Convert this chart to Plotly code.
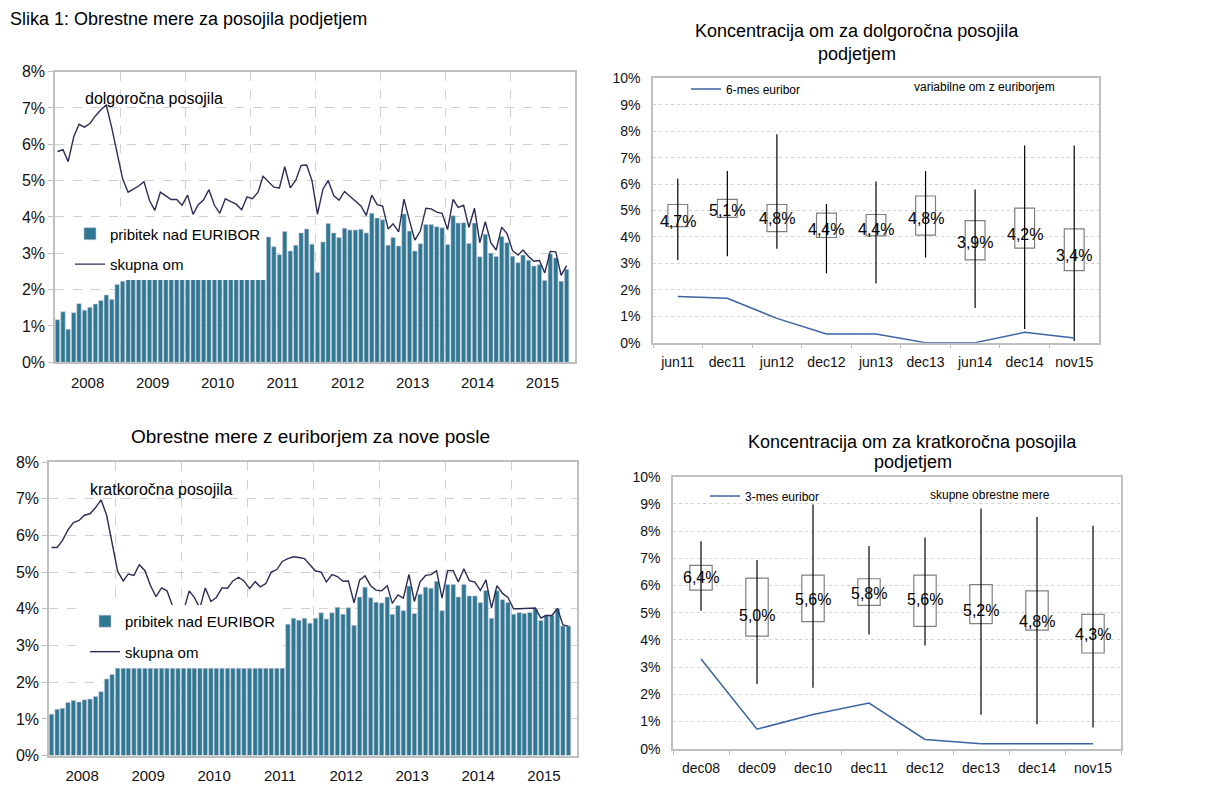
import plotly.graph_objects as go

W, H = 1231, 792
def X(px):
    return px / W
def Y(py):
    return 1 - py / H

FONT = "Liberation Sans, Arial, sans-serif"
NARROW = "Liberation Sans Narrow, Arial Narrow, Liberation Sans, Arial, sans-serif"
BAR_C = "#2F7892"
LINE_C = "#2B2D55"
EUR_C = "#3B64A0"

# ---------------- monthly data (Jan 2008 - Nov 2015) ----------------
months = [f"{y}-{m:02d}-15" for y in range(2008, 2016) for m in range(1, 13)][:95]

dolg_pribitek = [
    1.17, 1.39, 0.91, 1.36, 1.61, 1.43, 1.51, 1.60, 1.70, 1.85, 1.73, 2.14,
    2.23, 2.38, 2.38, 2.38, 2.38, 2.38, 2.38, 2.38, 2.38, 2.38, 2.38, 2.38,
    2.38, 2.38, 2.38, 2.38, 2.38, 2.38, 2.38, 2.38, 2.38, 2.38, 2.38, 2.38,
    2.38, 2.38, 2.38, 3.45, 3.18, 2.96, 3.60, 3.06, 3.22, 3.56, 3.67, 3.25,
    2.47, 3.31, 3.82, 3.56, 3.43, 3.69, 3.64, 3.64, 3.66, 3.56, 4.10, 3.97,
    3.92, 3.22, 3.43, 3.20, 4.08, 3.61, 3.06, 3.26, 3.79, 3.79, 3.73, 3.70,
    3.24, 4.03, 3.83, 3.84, 3.27, 3.83, 2.90, 3.52, 3.00, 2.91, 3.46, 3.29,
    2.92, 2.74, 2.95, 2.81, 2.65, 2.68, 2.25, 2.98, 2.87, 2.23, 2.56,
]
dolg_skupna = [
    5.80, 5.85, 5.52, 6.20, 6.55, 6.47, 6.57, 6.78, 6.95, 7.08, 6.45, 5.75,
    5.05, 4.68, 4.75, 4.85, 4.97, 4.45, 4.18, 4.68, 4.58, 4.48, 4.48, 4.32,
    4.60, 4.07, 4.33, 4.47, 4.75, 4.32, 4.10, 4.50, 4.42, 4.35, 4.20, 4.55,
    4.50, 4.68, 5.12, 4.97, 4.82, 4.80, 5.38, 4.80, 5.01, 5.42, 5.43, 5.00,
    4.08, 4.77, 5.00, 4.59, 4.46, 4.70, 4.57, 4.46, 4.30, 4.04, 4.60, 4.34,
    4.30, 3.67, 3.81, 3.59, 4.49, 3.90, 3.36, 3.61, 4.24, 4.22, 4.13, 4.10,
    3.65, 4.48, 4.26, 4.32, 3.71, 4.24, 3.29, 3.87, 3.29, 3.09, 3.72, 3.54,
    3.07, 2.95, 3.09, 2.91, 2.78, 2.80, 2.46, 3.05, 3.04, 2.39, 2.66,
]
kratk_pribitek = [
    1.13, 1.26, 1.29, 1.45, 1.50, 1.46, 1.52, 1.54, 1.61, 1.74, 2.09, 2.21,
    2.38, 2.38, 2.38, 2.38, 2.38, 2.38, 2.38, 2.38, 2.38, 2.38, 2.38, 2.38,
    2.38, 2.38, 2.38, 2.38, 2.38, 2.38, 2.38, 2.38, 2.38, 2.38, 2.38, 2.38,
    2.38, 2.38, 2.38, 2.38, 2.38, 2.38, 2.38, 3.58, 3.74, 3.69, 3.74, 3.61,
    3.74, 3.89, 3.72, 3.89, 4.04, 3.85, 4.03, 3.55, 4.32, 4.59, 4.30, 4.18,
    4.16, 4.32, 3.85, 4.09, 3.95, 4.62, 3.87, 4.40, 4.59, 4.56, 4.75, 3.95,
    4.66, 4.66, 4.32, 4.66, 4.35, 4.35, 4.17, 4.50, 3.74, 4.49, 4.25, 4.17,
    3.85, 3.90, 3.87, 3.90, 4.00, 3.68, 3.83, 3.82, 4.00, 3.53, 3.53,
]
kratk_skupna = [
    5.67, 5.67, 5.86, 6.15, 6.35, 6.41, 6.55, 6.59, 6.76, 6.97, 6.55, 5.80,
    5.02, 4.76, 4.95, 4.91, 5.20, 5.04, 4.64, 4.33, 4.57, 4.49, 4.07, 3.90,
    3.95, 4.49, 4.31, 4.02, 4.57, 4.20, 4.31, 4.57, 4.56, 4.76, 4.86, 4.76,
    4.55, 4.74, 4.60, 4.69, 5.00, 5.07, 5.29, 5.37, 5.42, 5.40, 5.37, 5.20,
    5.03, 5.00, 4.73, 4.93, 4.88, 4.75, 4.76, 4.16, 4.78, 4.90, 4.63, 4.51,
    4.49, 4.63, 4.15, 4.38, 4.29, 4.94, 4.20, 4.73, 4.91, 4.93, 5.04, 4.29,
    5.04, 5.04, 4.73, 5.09, 4.77, 4.73, 4.50, 4.79, 4.02, 4.63, 4.42, 4.31,
    4.00, 4.00, 4.00, 4.00, 4.02, 3.75, 3.82, 3.82, 4.01, 3.56, 3.53,
]

# ---------------- box data ----------------
dolg_cats = ["jun11", "dec11", "jun12", "dec12", "jun13", "dec13", "jun14", "dec14", "nov15"]
dolg_low = [3.13, 3.27, 3.55, 2.63, 2.24, 3.22, 1.31, 0.52, 0.06]
dolg_q1 = [4.39, 4.74, 4.20, 3.98, 4.04, 4.07, 3.13, 3.58, 2.73]
dolg_med = [4.7, 5.1, 4.8, 4.4, 4.4, 4.8, 3.9, 4.2, 3.4]
dolg_q3 = [5.23, 5.42, 5.23, 4.90, 4.85, 5.55, 4.62, 5.09, 4.31]
dolg_high = [6.20, 6.50, 7.89, 5.25, 6.10, 6.50, 5.80, 7.46, 7.46]
euribor6 = [1.75, 1.68, 0.92, 0.33, 0.33, 0.00, 0.00, 0.39, 0.18]

kratk_cats = ["dec08", "dec09", "dec10", "dec11", "dec12", "dec13", "dec14", "nov15"]
kratk_low = [5.07, 2.38, 2.24, 4.20, 3.80, 1.25, 0.90, 0.78]
kratk_q1 = [5.83, 4.14, 4.67, 5.27, 4.50, 4.60, 4.36, 3.52]
kratk_med = [6.4, 5.0, 5.6, 5.8, 5.6, 5.2, 4.8, 4.3]
kratk_q3 = [6.74, 6.27, 6.38, 6.25, 6.38, 6.03, 5.80, 4.94]
kratk_high = [7.63, 6.94, 8.98, 7.45, 7.77, 8.83, 8.52, 8.20]
euribor3 = [3.30, 0.72, 1.26, 1.68, 0.34, 0.18, 0.18, 0.18]

MONTH_MS = 30.44 * 24 * 3600 * 1000

fig = go.Figure()

# ---------- left panels ----------
for (pribitek, skupna, xa, ya, leg) in [
    (dolg_pribitek, dolg_skupna, "x", "y", "legend"),
    (kratk_pribitek, kratk_skupna, "x3", "y3", "legend3"),
]:
    fig.add_trace(go.Bar(
        x=months, y=pribitek, xaxis=xa, yaxis=ya, name="pribitek nad EURIBOR",
        marker=dict(color=BAR_C, line=dict(color="#C4C4D8", width=0.6)),
        width=0.8 * MONTH_MS, legend=leg, legendgroup=leg + "a",
    ))
    fig.add_trace(go.Scatter(
        x=months, y=skupna, xaxis=xa, yaxis=ya, name="skupna om", mode="lines",
        line=dict(color=LINE_C, width=1.4), legend=leg, legendgroup=leg + "b",
    ))

# ---------- right panels (box charts) ----------
def add_boxes(cats, low, q1, q3, high, eur, eur_name, xa, ya, leg):
    wx, wy = [], []
    for c, lo, hi in zip(cats, low, high):
        wx += [c, c, None]
        wy += [lo, hi, None]
    fig.add_trace(go.Scatter(x=wx, y=wy, mode="lines", xaxis=xa, yaxis=ya,
                             line=dict(color="black", width=1.2), showlegend=False,
                             hoverinfo="skip"))
    fig.add_trace(go.Bar(x=cats, y=[b - a for a, b in zip(q1, q3)], base=q1,
                         xaxis=xa, yaxis=ya, width=0.4, showlegend=False,
                         marker=dict(color="white", line=dict(color="#7F7F7F", width=1.2))))
    fig.add_trace(go.Scatter(x=cats, y=eur, mode="lines", xaxis=xa, yaxis=ya,
                             name=eur_name, line=dict(color=EUR_C, width=1.5),
                             legend=leg))

add_boxes(dolg_cats, dolg_low, dolg_q1, dolg_q3, dolg_high, euribor6,
          "6-mes euribor", "x2", "y2", "legend2")
add_boxes(kratk_cats, kratk_low, kratk_q1, kratk_q3, kratk_high, euribor3,
          "3-mes euribor", "x4", "y4", "legend4")

annotations = []
for cats, med, xa, ya in [(dolg_cats, dolg_med, "x2", "y2"), (kratk_cats, kratk_med, "x4", "y4")]:
    for c, m in zip(cats, med):
        annotations.append(dict(
            x=c, y=m, xref=xa, yref=ya, showarrow=False, yshift=-3,
            text=f"{m:.1f}".replace(".", ",") + "%",
            font=dict(family=NARROW, size=16, color="black"),
        ))

def txt(text, px, py, size, anchor="center", family=FONT):
    annotations.append(dict(
        x=X(px), y=Y(py), xref="paper", yref="paper", showarrow=False,
        text=text, xanchor=anchor, yanchor="middle",
        font=dict(family=family, size=size, color="black"),
    ))

txt("Slika 1: Obrestne mere za posojila podjetjem", 8, 11, 18, "left")
txt("dolgoročna posojila", 83, 92, 16, "left")
txt("kratkoročna posojila", 88, 492, 16, "left")
txt("Obrestne mere z euriborjem za nove posle", 310, 438, 19)
txt("Koncentracija om za dolgoročna posojila", 857, 23, 18)
txt("podjetjem", 857, 47, 18)
txt("Koncentracija om za kratkoročna posojila", 913, 444, 18)
txt("podjetjem", 913, 464, 18)
txt("variabilne om z euriborjem", 984, 81, 12, family=NARROW)
txt("skupne obrestne mere", 990, 498, 12, family=NARROW)

# ---------- axes ----------
def left_axes(xdom, ydom):
    xa = dict(
        domain=xdom, type="date", range=["2008-01-01", "2016-01-01"],
        tick0="2008-01-01", dtick="M12", tickformat="%Y", ticklabelmode="period",
        showgrid=True, gridcolor="#D0D0D0", griddash="dash", gridwidth=1,
        showline=True, mirror=True, linecolor="#BFBFBF", linewidth=1.5,
        ticks="", ticklabelstandoff=6,
        tickfont=dict(family=FONT, size=15, color="#111"),
    )
    ya = dict(
        domain=ydom, range=[0, 8], tickmode="linear", tick0=0, dtick=1,
        ticksuffix="%", showticksuffix="all",
        showgrid=True, gridcolor="#D0D0D0", griddash="dash",
        showline=True, mirror=True, linecolor="#BFBFBF", linewidth=1.5,
        ticks="outside", ticklen=5, tickcolor="#BFBFBF", zeroline=False,
        tickfont=dict(family=FONT, size=16, color="#111"),
    )
    return xa, ya

def right_axes(xdom, ydom):
    xa = dict(
        domain=xdom, type="category", showgrid=False,
        showline=True, mirror=True, linecolor="#BFBFBF", linewidth=1.5,
        ticks="outside", tickson="boundaries", ticklen=4, tickcolor="#BFBFBF",
        ticklabelstandoff=6,
        tickfont=dict(family=NARROW, size=14, color="#111"),
    )
    ya = dict(
        domain=ydom, range=[0, 10], dtick=1, ticksuffix="%",
        showgrid=True, gridcolor="#D3D3D3", griddash="dot", gridwidth=1,
        showline=True, mirror=True, linecolor="#BFBFBF", linewidth=1.5,
        zeroline=False, ticks="", ticklabelstandoff=8,
        tickfont=dict(family=NARROW, size=14, color="#111"),
    )
    return xa, ya

x1, y1 = left_axes([X(55), X(575)], [Y(362), Y(65)])
x3, y3 = left_axes([X(49), X(577)], [Y(764), Y(464)])
x2, y2 = right_axes([X(653), X(1099)], [Y(342), Y(72)])
x4, y4 = right_axes([X(673), X(1121)], [Y(757), Y(479)])
x2["anchor"] = "y2"; y2["anchor"] = "x2"
x3["anchor"] = "y3"; y3["anchor"] = "x3"
x4["anchor"] = "y4"; y4["anchor"] = "x4"

leg_big = dict(bgcolor="white", borderwidth=0, xanchor="left", yanchor="top",
               font=dict(family=FONT, size=15, color="black"),
               traceorder="grouped", tracegroupgap=8)
leg_small = dict(bgcolor="rgba(0,0,0,0)", borderwidth=0, xanchor="left", yanchor="top",
                 font=dict(family=NARROW, size=12, color="black"))

fig.update_layout(
    width=W, height=H, autosize=False,
    margin=dict(l=0, r=0, t=0, b=0),
    paper_bgcolor="white", plot_bgcolor="white",
    barmode="overlay", showlegend=True,
    font=dict(family=FONT, color="black"),
    xaxis=x1, yaxis=y1, xaxis2=x2, yaxis2=y2, xaxis3=x3, yaxis3=y3,
    xaxis4=x4, yaxis4=y4,
    legend=dict(leg_big, x=X(70), y=Y(214)),
    legend3=dict(leg_big, x=X(85), y=Y(610)),
    legend2=dict(leg_small, x=X(686), y=Y(68)),
    legend4=dict(leg_small, x=X(705), y=Y(484)),
    annotations=annotations,
)

fig.write_html(
    "out.html",
    config={"displayModeBar": False},
    post_script="document.body.style.margin='0';document.body.style.overflow='hidden';",
)
